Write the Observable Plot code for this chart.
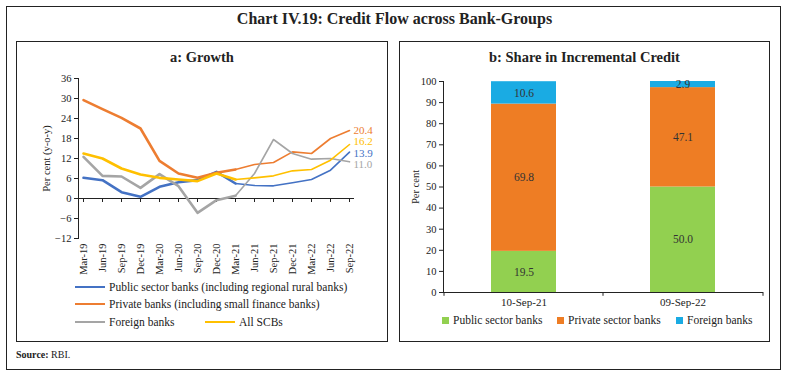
<!DOCTYPE html>
<html><head><meta charset="utf-8">
<script src="https://cdn.jsdelivr.net/npm/d3@7"></script>
<script src="https://cdn.jsdelivr.net/npm/@observablehq/plot@0.6"></script>
<style>
body{margin:0;background:#fff;font-family:"Liberation Serif","DejaVu Serif",serif;color:#222}
#root{position:relative;width:789px;height:376px;overflow:hidden;background:#fff}
.box{position:absolute;border:1.5px solid #222;box-sizing:border-box}
.abs{position:absolute}
.title{position:absolute;left:0;width:789px;text-align:center;font-weight:bold;font-size:16px;top:10px}
.ptitle{position:absolute;text-align:center;font-weight:bold;font-size:14.5px}
.leg{position:absolute;font-size:11.5px;display:flex;align-items:center;white-space:nowrap}
.sw{display:inline-block;width:30px;height:2.5px;margin-right:4px}
.sq{display:inline-block;width:7px;height:7px;margin-right:4px}
svg{overflow:visible}
</style></head><body><div id="root"></div>
<script>
// ---- Panel a: Growth (per cent, y-o-y) ----
const quarters = ["Mar-19","Jun-19","Sep-19","Dec-19","Mar-20","Jun-20","Sep-20","Dec-20","Mar-21","Jun-21","Sep-21","Dec-21","Mar-22","Jun-22","Sep-22"];
const growthSeries = ["Public sector banks (including regional rural banks)","Private banks (including small finance banks)","Foreign banks","All SCBs"];
const publicGrowth  = [6.2, 5.5, 1.9, 0.5, 3.5, 4.9, 5.5, 8.0, 4.5, 3.9, 3.8, 4.7, 5.7, 8.5, 13.9];
const privateGrowth = [29.5, 26.8, 24.2, 21.0, 11.3, 7.5, 6.2, 7.7, 8.7, 10.2, 10.8, 14.0, 13.5, 18.0, 20.4];
const foreignGrowth = [12.5, 6.8, 6.6, 3.2, 7.3, 3.7, -4.3, -0.5, 0.8, 7.5, 17.7, 13.5, 11.8, 12.0, 11.0];
const allScbGrowth  = [13.5, 12.0, 9.0, 7.2, 6.2, 5.7, 5.2, 7.5, 5.7, 6.2, 6.8, 8.3, 8.7, 11.5, 16.2];
const growthTicks = [-12, -6, 0, 6, 12, 18, 24, 30, 36];
const growthColors = ["#4472C4", "#ED7D31", "#A5A5A5", "#FFC000"];

// ---- Panel b: Share in incremental credit (per cent) ----
const dates = ["10-Sep-21", "09-Sep-22"];
const banks = ["Public sector banks", "Private sector banks", "Foreign banks"];
const publicShare  = [19.5, 50.0];
const privateShare = [69.8, 47.1];
const foreignShare = [10.6, 2.9];
const shareTicks = [0, 10, 20, 30, 40, 50, 60, 70, 80, 90, 100];
const shareColors = ["#92D050", "#EE7D24", "#1AABE3"];

const root = document.getElementById("root");
function el(tag, cls, style, html) {
  const e = document.createElement(tag);
  if (cls) e.className = cls;
  if (style) Object.assign(e.style, style);
  if (html != null) e.innerHTML = html;
  root.appendChild(e);
  return e;
}

// frames and titles
el("div", "box", {left:"6px", top:"6px", width:"775px", height:"364px"});
el("div", "box", {left:"16px", top:"41px", width:"372px", height:"301px"});
el("div", "box", {left:"399px", top:"41px", width:"371px", height:"301px"});
el("div", "title", null, "Chart IV.19: Credit Flow across Bank-Groups");
el("div", "ptitle", {left:"16px", width:"372px", top:"49px"}, "a: Growth");
el("div", "ptitle", {left:"399px", width:"371px", top:"49px"}, "b: Share in Incremental Credit");
el("div", "abs", {left:"16px", top:"349px", fontSize:"10px"}, "<b>Source:</b> RBI.");

// ---- left chart ----
const growthValues = [publicGrowth, privateGrowth, foreignGrowth, allScbGrowth];
const rows = [];
growthSeries.forEach((s, i) => quarters.forEach((q, j) => rows.push({series: s, q, j, v: growthValues[i][j]})));
const lastRows = rows.filter(r => r.j === quarters.length - 1);
const labelNudge = {[growthSeries[0]]: 1, [growthSeries[1]]: 0, [growthSeries[2]]: 3, [growthSeries[3]]: -3};
const font = {fontFamily: "Liberation Serif, DejaVu Serif, serif", fontSize: "10.5px", color: "#222", background: "transparent", overflow: "visible"};

const left = Plot.plot({
  width: 366, height: 211,
  marginLeft: 61, marginTop: 16, marginBottom: 35, marginRight: 29,
  style: font,
  x: {type: "point", domain: quarters, padding: 0},
  y: {domain: [-12, 36]},
  color: {domain: growthSeries, range: growthColors},
  marks: [
    Plot.axisY({ticks: growthTicks, tickSize: 4, tickPadding: 3, label: "Per cent (y-o-y)", labelArrow: "none", labelAnchor: "center", labelOffset: 36}),
    Plot.axisX({tickSize: 0, tickRotate: -90, tickPadding: 5, label: null}),
    Plot.frame({anchor: "left", stroke: "#222"}),
    Plot.ruleY([0], {stroke: "#222"}),
    Plot.ruleX(quarters, {x: d => d, y1: 0, y2: -1.2, stroke: "#222"}),
    Plot.line(rows.filter(r => r.j <= 8), {x: "q", y: "v", z: "series", stroke: "series", strokeWidth: 2.6}),
    Plot.line(rows.filter(r => r.j >= 8), {x: "q", y: "v", z: "series", stroke: "series", strokeWidth: 1.6}),
    ...lastRows.map(r => Plot.text([r], {x: "q", y: "v", text: d => d.v.toFixed(1), fill: "series", dx: 4, dy: labelNudge[r.series], textAnchor: "start", fontSize: 11}))
  ]
});
Object.assign(left.style, {position: "absolute", left: "17px", top: "62px"});
root.appendChild(left);

// left legend
const legPos = [[75, 281], [75, 298], [75, 316], [205, 316]];
growthSeries.forEach((s, i) => {
  const d = el("div", "leg", {left: legPos[i][0] + "px", top: legPos[i][1] + "px"});
  d.innerHTML = `<span class="sw" style="background:${growthColors[i]}"></span>${s}`;
});

// ---- right chart ----
const shareValues = [publicShare, privateShare, foreignShare];
const shareRows = [];
dates.forEach((dt, j) => banks.forEach((b, i) => shareRows.push({date: dt, bank: b, v: shareValues[i][j]})));

const right = Plot.plot({
  width: 370, height: 248,
  marginLeft: 44, marginTop: 19, marginBottom: 18, marginRight: 7,
  style: font,
  x: {type: "band", domain: dates, paddingInner: 0.594, paddingOuter: 0.297},
  y: {domain: [0, 100]},
  color: {domain: banks, range: shareColors},
  marks: [
    Plot.barY(shareRows, {x: "date", y: "v", fill: "bank"}),
    Plot.text(shareRows, Plot.stackY({x: "date", y: "v", text: d => d.v.toFixed(1), fill: "#333", fontSize: 11.5})),
    Plot.axisY({ticks: shareTicks, tickSize: 4, tickPadding: 3, label: "Per cent", labelArrow: "none", labelAnchor: "center", labelOffset: 32}),
    Plot.axisX({tickSize: 0, tickPadding: 6, label: null, fontSize: 11}),
    Plot.frame({anchor: "left", stroke: "#222"}),
    Plot.frame({anchor: "bottom", stroke: "#222"}),
    Plot.ruleX(dates, {x: d => d, y1: 0, y2: -1.8, dx: -80, stroke: "#222"}),
    Plot.ruleX(dates.slice(-1), {x: d => d, y1: 0, y2: -1.8, dx: 80, stroke: "#222"})
  ]
});
Object.assign(right.style, {position: "absolute", left: "399px", top: "62px"});
root.appendChild(right);

// right legend
const sqPos = [442, 557, 676];
banks.forEach((b, i) => {
  const d = el("div", "leg", {left: sqPos[i] + "px", top: "314px"});
  d.innerHTML = `<span class="sq" style="background:${shareColors[i]}"></span>${b}`;
});
</script></body></html>
